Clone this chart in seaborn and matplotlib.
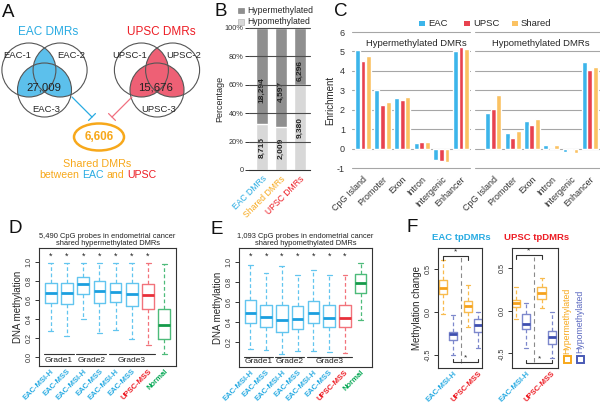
import matplotlib

matplotlib.use("Agg")
import matplotlib.pyplot as plt
from matplotlib.patches import Circle, Ellipse, Rectangle
import numpy as np
import pandas as pd
import seaborn as sns

W, H = 600, 404

BLUE = "#29abe2"
RED = "#ed1c24"
ORANGE = "#f7a81b"
GREEN = "#00a651"

# panel A
A_EAC_DMRS = 27009
A_UPSC_DMRS = 15676
A_SHARED_DMRS = 6606

# panel B
B_GROUPS = ["EAC DMRs", "Shared DMRs", "UPSC DMRs"]
B_HYPER = [18294, 4597, 6296]
B_HYPO = [8715, 2009, 9380]

# panel C
C_REGIONS = ["CpG Island", "Promoter", "Exon", "Intron", "Intergenic", "Enhancer"]
C_SETS = ["EAC", "UPSC", "Shared"]
C_HYPER_EAC = [5.05, 3.0, 2.6, 0.3, -0.6, 5.0]
C_HYPER_UPSC = [4.5, 2.25, 2.5, 0.35, -0.62, 5.22]
C_HYPER_SHARED = [4.75, 2.4, 2.65, 0.35, -0.7, 5.15]
C_HYPO_EAC = [1.82, 0.78, 1.42, 0.18, -0.2, 4.45]
C_HYPO_UPSC = [2.02, 0.52, 1.22, 0.0, -0.08, 4.02]
C_HYPO_SHARED = [2.75, 0.92, 1.52, 0.2, -0.25, 4.22]

# panels D and E (box summaries)
DE_LABELS = ["EAC-MSI-H", "EAC-MSS", "EAC-MSI-H", "EAC-MSS",
             "EAC-MSI-H", "EAC-MSS", "UPSC-MSS", "Normal"]
DE_KIND = ["EAC"] * 6 + ["UPSC", "Normal"]
GRADES = ["Grade1", "Grade2", "Grade3"]
GRADE_SPANS = [(0, 1), (2, 3), (4, 6)]

D_MED = [0.67, 0.67, 0.76, 0.69, 0.685, 0.66, 0.65, 0.33]
D_Q1 = [0.57, 0.555, 0.66, 0.57, 0.58, 0.535, 0.505, 0.19]
D_Q3 = [0.775, 0.775, 0.84, 0.795, 0.78, 0.78, 0.77, 0.50]
D_LO = [0.27, 0.215, 0.40, 0.245, 0.28, 0.185, 0.12, 0.03]
D_HI = [0.99, 0.99, 0.99, 0.99, 0.99, 0.99, 0.99, 0.975]

E_MED = [0.49, 0.445, 0.415, 0.43, 0.49, 0.44, 0.44, 0.79]
E_Q1 = [0.39, 0.345, 0.30, 0.325, 0.385, 0.35, 0.345, 0.69]
E_Q3 = [0.62, 0.57, 0.565, 0.555, 0.605, 0.565, 0.565, 0.88]
E_LO = [0.125, 0.115, 0.075, 0.11, 0.105, 0.095, 0.09, 0.415]
E_HI = [0.965, 0.89, 0.96, 0.87, 0.92, 0.87, 0.865, 0.99]

# panel F: hyper EAC-MSI-H, hypo EAC-MSI-H, hyper UPSC-MSS, hypo UPSC-MSS
F_KIND = ["Hyper", "Hypo", "Hyper", "Hypo"]
F_LABELS = ["EAC-MSI-H", "UPSC-MSS"]
FL_MED = [0.28, -0.265, 0.06, -0.155]
FL_Q1 = [0.20, -0.335, 0.0, -0.235]
FL_Q3 = [0.37, -0.235, 0.125, -0.085]
FL_LO = [-0.03, -0.50, -0.175, -0.425]
FL_HI = [0.60, -0.04, 0.31, 0.0]
FR_MED = [0.09, -0.155, 0.21, -0.31]
FR_Q1 = [0.04, -0.22, 0.13, -0.39]
FR_Q3 = [0.12, -0.04, 0.27, -0.24]
FR_LO = [-0.095, -0.44, 0.03, -0.55]
FR_HI = [0.27, 0.09, 0.38, -0.02]

BOX_COLORS = {
    "EAC": ("#62c5ef", "#1b9fdf"),
    "UPSC": ("#f2737b", "#e8303a"),
    "Normal": ("#4dbb7a", "#159a4a"),
    "Hyper": ("#f8bb4e", "#f5a21d"),
    "Hypo": ("#7d88cc", "#3e4fb0"),
}
LABEL_COLORS = {"EAC": BLUE, "UPSC": RED, "Normal": GREEN}

sns.set_style("white")
plt.rcParams["font.family"] = ["Liberation Sans", "DejaVu Sans"]
plt.rcParams["axes.unicode_minus"] = False
plt.rcParams["axes.edgecolor"] = "#333333"
plt.rcParams["xtick.color"] = "#333333"
plt.rcParams["ytick.color"] = "#333333"

fig = plt.figure(figsize=(6, 4.04), dpi=100)


def px_axes(x0, y0, x1, y1):
    return fig.add_axes([x0 / W, 1 - y1 / H, (x1 - x0) / W, (y1 - y0) / H])


# ---------------- B ----------------
axb = px_axes(249, 28, 310, 170)
hyper = np.array(B_HYPER)
hypo = np.array(B_HYPO)
total = hyper + hypo
hypo_pct = hypo / total * 100
sns.barplot(x=B_GROUPS, y=total / total * 100, color="#8f8f8f", width=0.63,
            saturation=1, ax=axb)
sns.barplot(x=B_GROUPS, y=hypo_pct, color="#d8d8d8", width=0.63,
            saturation=1, ax=axb)
for y in [20, 40, 60, 80, 100]:
    axb.axhline(y, color="#4d4d4d", lw=0.8, zorder=5, clip_on=False)
for i in range(3):
    axb.text(i, hypo_pct[i] / 2, f"{hypo[i]:,}", rotation=90, ha="center",
             va="center", fontsize=6, fontweight="bold", color="#222222")
    axb.text(i, (hypo_pct[i] + 100) / 2 - 10, f"{hyper[i]:,}", rotation=90,
             ha="center", va="center", fontsize=6, fontweight="bold",
             color="#222222")
axb.set_xlim(-0.68, 2.53)
axb.set_ylim(0, 100)
axb.set_yticks([0, 20, 40, 60, 80, 100])
axb.set_yticklabels(["0", "20%", "40%", "60%", "80%", "100%"])
axb.tick_params(axis="y", length=3, width=0.7, labelsize=5.3, pad=1, left=True)
axb.tick_params(axis="x", length=0, labelsize=6.2, pad=3)
axb.set_xticks(range(3))
axb.set_xticklabels(B_GROUPS, rotation=45, ha="right", rotation_mode="anchor")
for lab, col in zip(axb.get_xticklabels(), [BLUE, ORANGE, RED]):
    lab.set_color(col)
axb.set_ylabel("Percentage", fontsize=6.5, labelpad=0)
for s in ["top", "right", "left"]:
    axb.spines[s].set_visible(False)
axb.spines["bottom"].set_linewidth(0.8)

# ---------------- C ----------------
c_hyper = pd.DataFrame({
    "region": C_REGIONS * 3,
    "set": np.repeat(C_SETS, len(C_REGIONS)),
    "value": C_HYPER_EAC + C_HYPER_UPSC + C_HYPER_SHARED,
})
c_hypo = pd.DataFrame({
    "region": C_REGIONS * 3,
    "set": np.repeat(C_SETS, len(C_REGIONS)),
    "value": C_HYPO_EAC + C_HYPO_UPSC + C_HYPO_SHARED,
})
C_PALETTE = {"EAC": "#3cb5ea", "UPSC": "#e8424f", "Shared": "#fbc262"}

axc1 = px_axes(352, 32, 470, 168)
axc2 = px_axes(475, 32, 600, 168)
for ax, df, xl in [(axc1, c_hyper, (-0.56, 5.46)), (axc2, c_hypo, (-0.95, 5.53))]:
    for y in range(-1, 7):
        ax.axhline(y, color="#a6a6a6", lw=0.8, zorder=0, clip_on=False)
    sns.barplot(data=df, x="region", y="value", hue="set", hue_order=C_SETS,
                order=C_REGIONS, palette=C_PALETTE, width=0.86, gap=0.12,
                saturation=1, errorbar=None, legend=False, ax=ax)
    ax.set_xlim(*xl)
    ax.set_ylim(-1, 6)
    ax.set_xlabel("")
    ax.set_ylabel("")
    ax.set_xticks(range(6))
    ax.set_xticklabels(C_REGIONS, rotation=45, ha="right", rotation_mode="anchor")
    ax.tick_params(axis="both", length=0, labelsize=6.5)
    ax.tick_params(axis="x", pad=5)
    for s in ax.spines.values():
        s.set_visible(False)
axc1.set_yticks(range(-1, 7))
axc1.tick_params(axis="y", pad=5)
axc1.set_ylabel("Enrichment", fontsize=7, labelpad=1)
axc2.set_yticks([])


# ---------------- D, E, F helper ----------------
def draw_boxes(ax, med, q1, q3, lo, hi, kinds, positions, width, capwidth):
    stats = [dict(med=m, q1=a, q3=b, whislo=l, whishi=h, fliers=[])
             for m, a, b, l, h in zip(med, q1, q3, lo, hi)]
    art = ax.bxp(stats, positions=positions, widths=width, capwidths=capwidth,
                 showfliers=False, manage_ticks=False)
    for i, kind in enumerate(kinds):
        edge, dark = BOX_COLORS[kind]
        art["boxes"][i].set(color=edge, linewidth=1.0)
        art["medians"][i].set(color=dark, linewidth=2.0, solid_capstyle="butt")
        for line in art["whiskers"][2 * i:2 * i + 2]:
            line.set(color=edge, linestyle=(0, (3, 2)), linewidth=0.9)
        for line in art["caps"][2 * i:2 * i + 2]:
            line.set(color=edge, linewidth=0.9)


def style_frame(ax):
    for s in ax.spines.values():
        s.set_visible(True)
        s.set_linewidth(0.8)
        s.set_color("#333333")
    ax.tick_params(axis="y", length=3, width=0.7, labelsize=5.2, pad=1.5, left=True)
    ax.tick_params(axis="x", length=0, pad=1.5)
    for lab in ax.get_yticklabels():
        lab.set_rotation(90)
        lab.set_va("center")


def de_panel(ax, med, q1, q3, lo, hi, ylim, yticks, star_y, line_y, text_y):
    pos = list(range(len(med)))
    draw_boxes(ax, med, q1, q3, lo, hi, DE_KIND, pos, 0.72, 0.3)
    ax.set_xlim(-0.72, 7.72)
    ax.set_ylim(*ylim)
    ax.set_yticks(yticks)
    ax.set_yticklabels([f"{v:.1f}" for v in yticks])
    ax.set_xticks(pos)
    ax.set_xticklabels(DE_LABELS, rotation=45, ha="right", rotation_mode="anchor",
                       fontsize=5.5, fontweight="bold")
    for lab, kind in zip(ax.get_xticklabels(), DE_KIND):
        lab.set_color(LABEL_COLORS[kind])
    for i, kind in enumerate(DE_KIND):
        if kind != "Normal":
            ax.text(i, star_y, "*", ha="center", va="center", fontsize=6.5,
                    color="#222222")
    for name, (a, b) in zip(GRADES, GRADE_SPANS):
        ax.plot([a - 0.42, b + 0.42], [line_y, line_y], color="#333333", lw=0.8)
        ax.text((a + b) / 2, text_y, name, ha="center", va="center",
                fontsize=6, color="#222222")
    ax.set_ylabel("DNA methylation", fontsize=7, labelpad=2)
    style_frame(ax)


axd = px_axes(39, 248, 176, 366)
de_panel(axd, D_MED, D_Q1, D_Q3, D_LO, D_HI, (-0.098, 1.144),
         [0.0, 0.2, 0.4, 0.6, 0.8, 1.0], 1.06, 0.028, -0.045)

axe = px_axes(239, 248, 372, 367)
de_panel(axe, E_MED, E_Q1, E_Q3, E_LO, E_HI, (-0.053, 1.137),
         [0.2, 0.4, 0.6, 0.8, 1.0], 1.057, 0.05, 0.0)


def f_panel(ax, med, q1, q3, lo, hi, xlim, ylim, top_y, bot_y, ylabel):
    pos = [1, 2, 3.5, 4.5]
    draw_boxes(ax, med, q1, q3, lo, hi, F_KIND, pos, 0.82, 0.4)
    ax.vlines(2.75, -0.6, 0.63, color="#8a8a8a", lw=0.8, linestyles=(0, (4, 3)))
    ax.plot([1, 1, 3.5, 3.5], [top_y - 0.04, top_y, top_y, top_y - 0.04],
            color="#333333", lw=0.8)
    ax.text(2.25, top_y + 0.01, "*", ha="center", va="bottom", fontsize=6)
    ax.plot([2, 2, 4.5, 4.5], [bot_y + 0.04, bot_y, bot_y, bot_y + 0.04],
            color="#333333", lw=0.8)
    ax.text(3.25, bot_y + 0.005, "*", ha="center", va="bottom", fontsize=6)
    ax.set_xlim(*xlim)
    ax.set_ylim(*ylim)
    ax.set_yticks([-0.5, 0.0, 0.5])
    ax.set_yticklabels(["-0.5", "0.0", "0.5"])
    ax.set_xticks([2, 4.5])
    ax.set_xticklabels(F_LABELS, rotation=45, ha="right", rotation_mode="anchor",
                       fontsize=5.5, fontweight="bold")
    for lab, col in zip(ax.get_xticklabels(), [BLUE, RED]):
        lab.set_color(col)
    if ylabel:
        ax.set_ylabel("Methylation change", fontsize=7, labelpad=2)
    style_frame(ax)


axf1 = px_axes(438, 248, 482, 368)
f_panel(axf1, FL_MED, FL_Q1, FL_Q3, FL_LO, FL_HI, (0.5, 4.9), (-0.655, 0.74),
        0.645, -0.585, True)
axf2 = px_axes(512, 248, 558, 368)
f_panel(axf2, FR_MED, FR_Q1, FR_Q3, FR_LO, FR_HI, (0.61, 5.1), (-0.67, 0.73),
        0.645, -0.615, False)

# ---------------- overlay: A, labels, legends ----------------
ov = fig.add_axes([0, 0, 1, 1])
ov.set_xlim(0, W)
ov.set_ylim(H, 0)
ov.axis("off")


def venn(cx, color, names, total):
    r = 27
    centers = [(cx - 15.6, 70), (cx + 15.6, 70), (cx, 90)]
    for i in range(3):
        for j in range(i + 1, 3):
            patch = Circle(centers[i], r, fc=color, ec="none")
            ov.add_patch(patch)
            patch.set_clip_path(Circle(centers[j], r, transform=ov.transData))
    for c in centers:
        ov.add_patch(Circle(c, r, fill=False, ec="#555555", lw=0.8))
    ov.text(cx - 27, 55, names[0], ha="center", va="center", fontsize=6.8)
    ov.text(cx + 27, 55, names[1], ha="center", va="center", fontsize=6.8)
    ov.text(cx + 2, 109, names[2], ha="center", va="center", fontsize=6.8)
    ov.text(cx - 1, 87, f"{total:,}", ha="center", va="center", fontsize=8.2,
            color="#222222")


venn(44.5, "#5cc0ec", ["EAC-1", "EAC-2", "EAC-3"], A_EAC_DMRS)
venn(157, "#ee6075", ["UPSC-1", "UPSC-2", "UPSC-3"], A_UPSC_DMRS)
ov.text(48, 32, "EAC DMRs", ha="center", va="center", fontsize=8.5, color=BLUE)
ov.text(161, 32, "UPSC DMRs", ha="center", va="center", fontsize=8.5, color=RED)
ov.annotate("", xy=(92, 117), xytext=(72, 97),
            arrowprops=dict(arrowstyle="-[, widthB=0.35, lengthB=0", color=BLUE,
                            lw=0.9, shrinkA=0, shrinkB=0))
ov.annotate("", xy=(112, 117), xytext=(132, 97),
            arrowprops=dict(arrowstyle="-[, widthB=0.35, lengthB=0",
                            color="#f07080", lw=0.9, shrinkA=0, shrinkB=0))
ov.add_patch(Ellipse((99, 137), 50, 27, fill=False, ec=ORANGE, lw=1.8))
ov.text(99, 137, f"{A_SHARED_DMRS:,}", ha="center", va="center", fontsize=8.5,
        fontweight="bold", color=ORANGE)
ov.text(97, 164, "Shared DMRs", ha="center", va="center", fontsize=7.8, color=ORANGE)
t1 = ov.text(39, 175.5, "between", ha="left", va="center", fontsize=7.6, color=ORANGE)
t2 = ov.annotate("EAC", xy=(1, 0.5), xycoords=t1, xytext=(2.2, 0),
                 textcoords="offset points", ha="left", va="center",
                 fontsize=7.6, color=BLUE)
t3 = ov.annotate("and", xy=(1, 0.5), xycoords=t2, xytext=(2.2, 0),
                 textcoords="offset points", ha="left", va="center",
                 fontsize=7.6, color=ORANGE)
ov.annotate("UPSC", xy=(1, 0.5), xycoords=t3, xytext=(2.2, 0),
            textcoords="offset points", ha="left", va="center",
            fontsize=7.6, color=RED)

# B legend
ov.add_patch(Rectangle((238, 7.5), 5.5, 5.5, fc="#8f8f8f", ec="#777777", lw=0.4))
ov.add_patch(Rectangle((238, 19), 5.5, 5.5, fc="#d8d8d8", ec="#aaaaaa", lw=0.4))
ov.text(247, 10.3, "Hypermethylated", ha="left", va="center", fontsize=6.2)
ov.text(247, 21.8, "Hypomethylated", ha="left", va="center", fontsize=6.2)

# C legend and sub titles
for x, name in zip([419, 464, 512], C_SETS):
    ov.add_patch(Rectangle((x, 20.5), 5.5, 5.5, fc=C_PALETTE[name], ec="none"))
    ov.text(x + 9, 23.3, name, ha="left", va="center", fontsize=6.8)
ov.text(416, 43, "Hypermethylated DMRs", ha="center", va="center", fontsize=6.8)
ov.text(541, 43, "Hypomethylated DMRs", ha="center", va="center", fontsize=6.8)

# D/E titles
ov.text(107.5, 240, "5,490 CpG probes in endometrial cancer\nshared hypermethylated DMRs",
        ha="center", va="center", fontsize=5.4, linespacing=1.1, color="#222222")
ov.text(305.5, 240, "1,093 CpG probes in endometrial cancer\nshared hypomethylated DMRs",
        ha="center", va="center", fontsize=5.4, linespacing=1.1, color="#222222")

# F titles and legend
ov.text(461, 237, "EAC tpDMRs", ha="center", va="center", fontsize=6.8,
        fontweight="bold", color=BLUE)
ov.text(537, 237, "UPSC tpDMRs", ha="center", va="center", fontsize=6.8,
        fontweight="bold", color=RED)
ov.text(567, 321, "Hypermethylated", rotation=90, ha="center", va="center",
        fontsize=6.3, color=ORANGE)
ov.text(580, 321, "Hypomethylated", rotation=90, ha="center", va="center",
        fontsize=6.3, color="#5a68c0")
ov.add_patch(Rectangle((563.5, 356), 7, 7, fill=False, ec=ORANGE, lw=1.4))
ov.add_patch(Rectangle((576.5, 356), 7, 7, fill=False, ec="#4a5ab5", lw=1.4))

# panel letters
for letter, x, y in [("A", 2, 4), ("B", 214, 3), ("C", 334, 3),
                     ("D", 9, 220), ("E", 211, 221), ("F", 406, 219)]:
    ov.text(x, y, letter, ha="left", va="top", fontsize=13.5, color="#111111")

fig.savefig("out.png", dpi=100)
